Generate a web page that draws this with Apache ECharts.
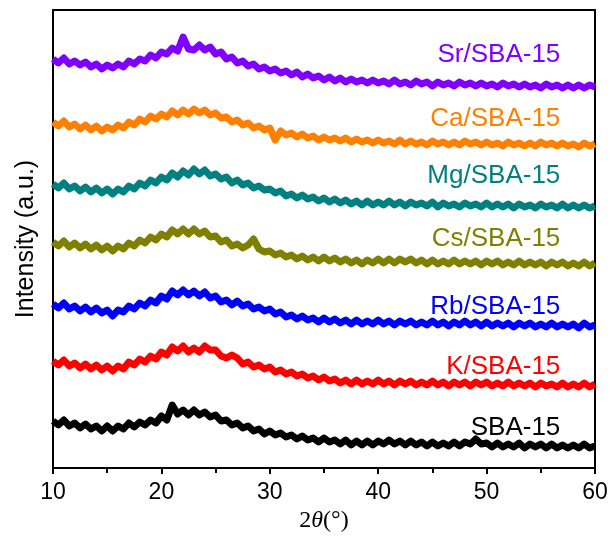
<!DOCTYPE html>
<html>
<head>
<meta charset="utf-8">
<script src="https://cdn.jsdelivr.net/npm/echarts@6/dist/echarts.min.js"></script>
<style>
  html, body { margin: 0; padding: 0; background: #fff; }
  #xrd { width: 613px; height: 539px; }
</style>
</head>
<body>
<div id="xrd"></div>
<script>
// 2theta sampled every 0.5 degree from 10 to 60
const angles = [];
for (let i = 0; i <= 100; i++) angles.push(10 + i * 0.5);

const names = ['Sr/SBA-15', 'Ca/SBA-15', 'Mg/SBA-15', 'Cs/SBA-15', 'Rb/SBA-15', 'K/SBA-15', 'SBA-15'];
const colors = ['#8000ff', '#ff8000', '#008080', '#808000', '#0000ff', '#ff0000', '#000000'];
// label anchor (right edge) in data coords
const labelX = 56.8;
const labelY = [413, 349, 292, 229, 161, 101, 40];

// stacked intensities (offset already included)
const sr = [409,405,410,404,407,403,406,401,404,399,403,400,404,401,407,404,409,407,413,410,
  416,414,420,417,431,419,418,423,418,421,414,416,409,411,405,407,402,404,399,401,
  397,399,395,397,393,396,391,394,390,392,388,391,387,390,386,389,386,388,385,388,
  385,387,384,388,384,386,383,387,384,386,382,386,383,385,382,386,383,385,382,385,
  382,384,381,385,382,384,381,384,381,383,380,384,381,383,380,383,380,383,380,383,381];
const ca = [346,342,347,341,344,339,343,338,342,337,341,338,343,340,346,343,349,346,352,349,
  354,351,357,353,358,354,359,355,358,353,355,350,351,346,348,343,345,340,342,338,
  340,328,337,333,335,331,334,330,332,328,331,328,330,327,330,326,329,326,328,325,
  328,325,327,324,328,324,327,324,326,323,327,324,326,323,326,323,327,324,326,323,
  326,323,325,322,326,323,325,322,325,322,326,323,325,322,325,322,324,321,325,322,324];
const mg = [284,280,285,279,282,277,281,276,280,275,279,274,279,276,282,279,285,282,288,285,
  291,288,295,291,297,293,299,294,298,292,294,289,291,285,288,283,285,280,282,278,
  279,275,277,272,274,270,273,269,271,267,270,266,269,265,268,264,267,263,267,263,
  266,263,267,263,266,262,266,263,265,262,266,261,265,262,264,261,265,262,264,261,
  265,261,264,261,264,260,264,261,263,260,264,261,263,260,264,260,263,260,263,260,262];
const cs = [226,222,227,221,225,220,224,219,223,218,222,217,222,219,225,222,228,225,231,228,
  234,231,238,234,239,234,239,234,237,231,232,226,228,222,224,220,223,229,219,216,
  217,213,215,211,213,209,212,208,211,207,211,207,210,206,209,205,208,204,208,205,
  209,205,209,205,209,206,209,205,208,204,208,204,207,204,208,204,207,204,207,203,
  207,204,207,203,206,203,207,203,206,203,206,202,206,203,206,202,205,202,206,202,205];
const rb = [164,160,165,159,162,157,161,156,160,155,158,152,158,156,162,159,165,162,168,165,
  172,169,177,173,178,173,177,172,176,170,172,166,168,163,167,162,164,159,161,157,
  159,154,156,151,153,149,152,148,150,146,150,146,149,145,148,144,148,144,147,144,
  148,144,147,143,147,144,147,143,146,143,147,143,146,142,146,143,147,143,146,142,
  146,142,145,142,145,141,145,142,145,141,144,141,145,141,144,141,144,140,145,141,143];
const k = [107,103,108,102,105,100,104,99,103,98,102,97,102,99,106,103,109,106,112,109,
  116,113,121,117,122,116,120,116,122,118,118,112,110,113,110,104,106,101,103,99,
  101,96,98,94,96,92,94,90,92,88,91,87,89,85,88,84,88,84,87,84,
  88,84,87,83,87,84,87,83,86,83,87,83,86,82,86,83,86,82,86,83,
  86,82,85,82,86,82,85,82,85,81,85,82,84,81,85,81,84,81,85,81,84];
const sba = [47,43,48,42,45,40,44,39,42,37,42,37,42,39,45,41,46,43,48,45,
  52,48,63,54,58,53,58,53,56,51,53,47,48,43,45,40,42,37,39,34,
  37,33,35,31,33,29,32,28,30,26,30,26,28,24,28,23,27,23,27,23,
  27,24,28,24,27,23,27,23,26,22,26,22,25,22,26,22,26,24,29,24,
  25,21,25,21,24,21,25,20,24,21,24,20,24,20,23,20,23,20,24,20,22];

const values = [sr, ca, mg, cs, rb, k, sba];

const series = values.map((vals, i) => ({
  name: names[i],
  type: 'line',
  data: angles.map((a, j) => [a, vals[j]]),
  symbol: 'none',
  lineStyle: { color: colors[i], width: 7, join: 'round' },
  z: 2,
  markPoint: {
    symbol: 'circle',
    symbolSize: 0,
    silent: true,
    label: {
      show: true,
      position: 'left',
      distance: 0,
      formatter: names[i],
      color: colors[i],
      fontSize: 26,
      fontFamily: 'Liberation Sans, Arial, sans-serif'
    },
    data: [{ coord: [labelX, labelY[i]] }]
  }
}));

const option = {
  animation: false,
  grid: {
    show: true,
    left: 53,
    right: 18,
    top: 10,
    bottom: 71,
    borderColor: '#000',
    borderWidth: 2,
    backgroundColor: 'transparent'
  },
  xAxis: {
    type: 'value',
    min: 10,
    max: 60,
    interval: 10,
    name: '{a|2}{b|θ}{a|(°)}',
    nameLocation: 'middle',
    nameGap: 34,
    nameTextStyle: {
      rich: {
        a: { fontSize: 24, fontFamily: 'Liberation Serif, Times New Roman, serif', color: '#000' },
        b: { fontSize: 24, fontFamily: 'Liberation Serif, Times New Roman, serif', fontStyle: 'italic', color: '#000' }
      }
    },
    axisLine: { lineStyle: { color: '#000', width: 2 } },
    axisTick: { inside: false, length: 6, lineStyle: { color: '#000', width: 2 } },
    minorTick: { show: true, splitNumber: 2, length: 5, lineStyle: { color: '#000', width: 2 } },
    axisLabel: { margin: 13, fontSize: 23, color: '#000', fontFamily: 'Liberation Sans, Arial, sans-serif' },
    splitLine: { show: false }
  },
  yAxis: {
    type: 'value',
    min: 0,
    max: 458,
    name: 'Intensity (a.u.)',
    nameLocation: 'middle',
    nameGap: 14,
    nameTextStyle: { fontSize: 25, color: '#000', fontFamily: 'Liberation Sans, Arial, sans-serif' },
    axisLine: { show: true, lineStyle: { color: '#000', width: 2 } },
    axisTick: { show: false },
    axisLabel: { show: false },
    splitLine: { show: false }
  },
  series: series
};

const chart = echarts.init(document.getElementById('xrd'));
chart.setOption(option);
window.addEventListener('resize', () => chart.resize());
</script>
</body>
</html>
